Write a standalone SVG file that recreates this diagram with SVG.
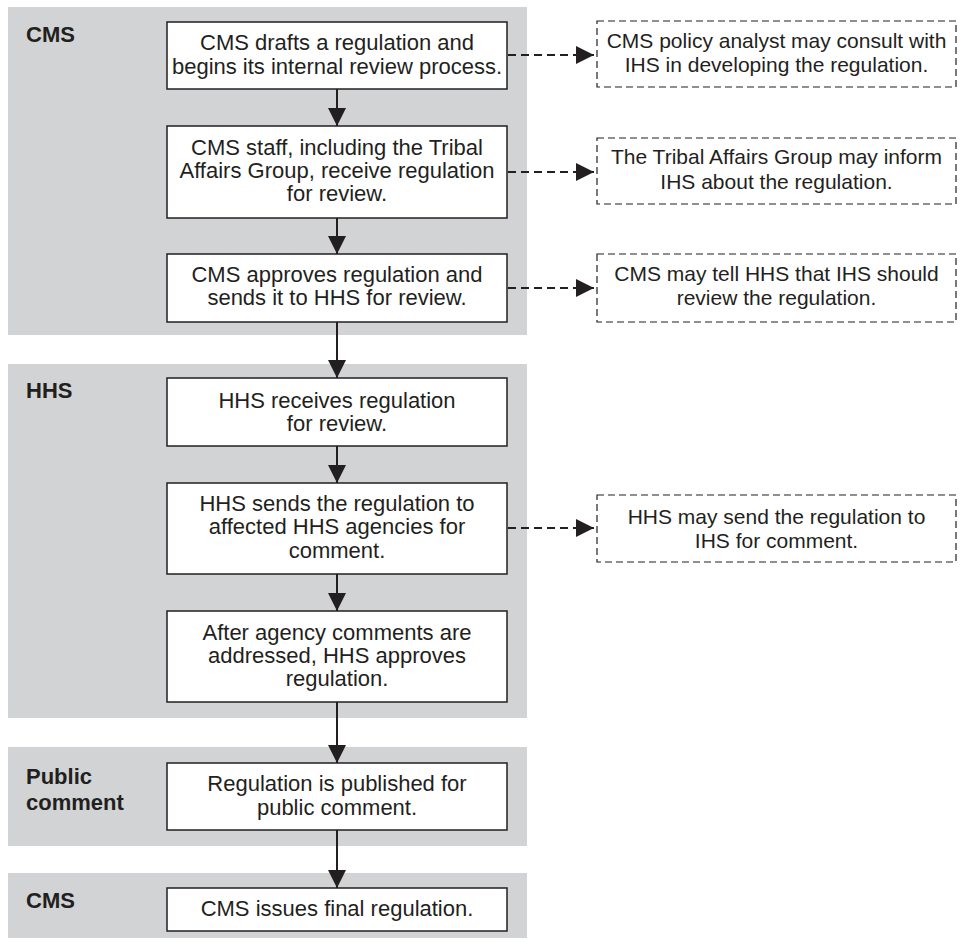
<svg xmlns="http://www.w3.org/2000/svg" width="965" height="942" viewBox="0 0 965 942">
<style>
.band{fill:#d1d3d4;stroke:none}
.box{fill:#ffffff;stroke:#231f20;stroke-width:1.5}
.dbox{fill:#ffffff;stroke:#231f20;stroke-width:1.2;stroke-dasharray:7 4}
.t{font-family:"Liberation Sans",Arial,sans-serif;font-size:22px;fill:#231f20;text-anchor:middle}
.dt{font-family:"Liberation Sans",Arial,sans-serif;font-size:21px;fill:#231f20;text-anchor:middle}
.lbl{font-family:"Liberation Sans",Arial,sans-serif;font-size:22px;font-weight:bold;fill:#231f20}
.flow{stroke:#231f20;stroke-width:2;fill:none}
.dash{stroke:#231f20;stroke-width:2.2;fill:none;stroke-dasharray:8 5}
</style>
<defs>
<marker id="ah" markerUnits="userSpaceOnUse" markerWidth="19" markerHeight="19" refX="18" refY="9.5" orient="auto">
<path d="M0,0.5 L18,9.5 L0,18.5 Z" fill="#231f20"/>
</marker>
</defs>
<rect width="965" height="942" fill="#ffffff"/>
<g id="lanes">
<rect class="band" x="8" y="7" width="519" height="328"/>
<rect class="band" x="8" y="364" width="519" height="354"/>
<rect class="band" x="8" y="747" width="519" height="99"/>
<rect class="band" x="8" y="873" width="519" height="65"/>
<text class="lbl" x="26" y="42">CMS</text>
<text class="lbl" x="26" y="398">HHS</text>
<text class="lbl" x="26" y="784">Public</text>
<text class="lbl" x="26" y="810">comment</text>
<text class="lbl" x="26" y="908">CMS</text>
</g>
<g id="connectors">
<line class="flow" x1="337" y1="89" x2="337" y2="126" marker-end="url(#ah)"/>
<line class="flow" x1="337" y1="218" x2="337" y2="254" marker-end="url(#ah)"/>
<line class="flow" x1="337" y1="322" x2="337" y2="378" marker-end="url(#ah)"/>
<line class="flow" x1="337" y1="446" x2="337" y2="483" marker-end="url(#ah)"/>
<line class="flow" x1="337" y1="574" x2="337" y2="611" marker-end="url(#ah)"/>
<line class="flow" x1="337" y1="702" x2="337" y2="763" marker-end="url(#ah)"/>
<line class="flow" x1="337" y1="830" x2="337" y2="888" marker-end="url(#ah)"/>
<line class="dash" x1="508" y1="55" x2="594" y2="55" marker-end="url(#ah)"/>
<line class="dash" x1="508" y1="172" x2="594" y2="172" marker-end="url(#ah)"/>
<line class="dash" x1="508" y1="288" x2="594" y2="288" marker-end="url(#ah)"/>
<line class="dash" x1="508" y1="528" x2="594" y2="528" marker-end="url(#ah)"/>
</g>
<g id="n1">
<rect class="box" x="167" y="22" width="340" height="67"/>
<text class="t" x="337" y="50">CMS drafts a regulation and</text>
<text class="t" x="337" y="74">begins its internal review process.</text>
</g>
<g id="n2">
<rect class="box" x="167" y="126" width="340" height="92"/>
<text class="t" x="337" y="155">CMS staff, including the Tribal</text>
<text class="t" x="337" y="178">Affairs Group, receive regulation</text>
<text class="t" x="337" y="201">for review.</text>
</g>
<g id="n3">
<rect class="box" x="167" y="254" width="340" height="68"/>
<text class="t" x="337" y="282">CMS approves regulation and</text>
<text class="t" x="337" y="305">sends it to HHS for review.</text>
</g>
<g id="n4">
<rect class="box" x="167" y="378" width="340" height="68"/>
<text class="t" x="337" y="408">HHS receives regulation</text>
<text class="t" x="337" y="431">for review.</text>
</g>
<g id="n5">
<rect class="box" x="167" y="483" width="340" height="91"/>
<text class="t" x="337" y="511">HHS sends the regulation to</text>
<text class="t" x="337" y="534">affected HHS agencies for</text>
<text class="t" x="337" y="558">comment.</text>
</g>
<g id="n6">
<rect class="box" x="167" y="611" width="340" height="91"/>
<text class="t" x="337" y="640">After agency comments are</text>
<text class="t" x="337" y="663">addressed, HHS approves</text>
<text class="t" x="337" y="686">regulation.</text>
</g>
<g id="n7">
<rect class="box" x="167" y="763" width="340" height="67"/>
<text class="t" x="337" y="791">Regulation is published for</text>
<text class="t" x="337" y="815">public comment.</text>
</g>
<g id="n8">
<rect class="box" x="167" y="888" width="340" height="43"/>
<text class="t" x="337" y="916">CMS issues final regulation.</text>
</g>
<g id="d1">
<rect class="dbox" x="597" y="21" width="359" height="66"/>
<text class="dt" x="776.5" y="48">CMS policy analyst may consult with</text>
<text class="dt" x="776.5" y="72">IHS in developing the regulation.</text>
</g>
<g id="d2">
<rect class="dbox" x="597" y="138" width="359" height="66"/>
<text class="dt" x="776.5" y="164">The Tribal Affairs Group may inform</text>
<text class="dt" x="776.5" y="189">IHS about the regulation.</text>
</g>
<g id="d3">
<rect class="dbox" x="597" y="254" width="359" height="68"/>
<text class="dt" x="776.5" y="281">CMS may tell HHS that IHS should</text>
<text class="dt" x="776.5" y="305">review the regulation.</text>
</g>
<g id="d4">
<rect class="dbox" x="597" y="495" width="359" height="67"/>
<text class="dt" x="776.5" y="524">HHS may send the regulation to</text>
<text class="dt" x="776.5" y="548">IHS for comment.</text>
</g>
</svg>
